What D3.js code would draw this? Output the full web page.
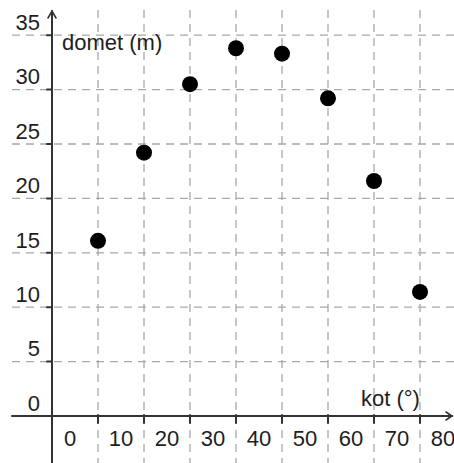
<!DOCTYPE html>
<html>
<head>
<meta charset="utf-8">
<script src="https://cdn.jsdelivr.net/npm/d3@7"></script>
<style>
  html, body { margin: 0; padding: 0; background: #fff; }
  svg { display: block; }
  text { font-family: "Liberation Sans", Arial, sans-serif; fill: #1e1e1e; }
</style>
</head>
<body>
<svg id="chart" width="454" height="463"></svg>
<script>
// Range (domet) of a projectile versus launch angle (kot)
const angles = [10, 20, 30, 40, 50, 60, 70, 80];
const ranges = [16.1, 24.2, 30.5, 33.8, 33.3, 29.2, 21.6, 11.4];
const xTickLabels = [0, 10, 20, 30, 40, 50, 60, 70, 80];
const yTickLabels = [0, 5, 10, 15, 20, 25, 30, 35];
const xGridValues = [10, 20, 30, 40, 50, 60, 70, 80];
const yGridValues = [5, 10, 15, 20, 25, 30, 35];

const W = 454, H = 463;
const svg = d3.select("#chart");

const x = d3.scaleLinear().domain([0, 80]).range([52, 420]);
const y = d3.scaleLinear().domain([0, 35]).range([416, 35.2]);

const gridColor = "#a8a8a8";
const axisColor = "#333";

// dashed grid
svg.append("g").selectAll("line").data(xGridValues).join("line")
  .attr("x1", d => x(d)).attr("x2", d => x(d))
  .attr("y1", 10).attr("y2", H)
  .attr("stroke", gridColor).attr("stroke-width", 1.3)
  .attr("stroke-dasharray", "8,6");

svg.append("g").selectAll("line").data(yGridValues).join("line")
  .attr("x1", 12).attr("x2", W)
  .attr("y1", d => y(d)).attr("y2", d => y(d))
  .attr("stroke", gridColor).attr("stroke-width", 1.3)
  .attr("stroke-dasharray", "8,6");

// axes lines with arrow heads
const axes = svg.append("g").attr("stroke", axisColor).attr("fill", "none")
  .attr("stroke-width", 2).attr("stroke-linecap", "round");
axes.append("line").attr("x1", 12).attr("x2", 452).attr("y1", y(0)).attr("y2", y(0));
axes.append("line").attr("x1", x(0)).attr("x2", x(0)).attr("y1", H).attr("y2", 11);
axes.append("path").attr("d", `M${x(0) - 4},${18} L${x(0)},${11} L${x(0) + 4},${18}`)
  .attr("stroke-width", 1.6);
axes.append("path").attr("d", `M${446},${y(0) - 4} L${452},${y(0)} L${446},${y(0) + 4}`)
  .attr("stroke-width", 1.6);

// tick marks
axes.append("g").selectAll("line").data(xGridValues).join("line")
  .attr("x1", d => x(d)).attr("x2", d => x(d))
  .attr("y1", y(0) - 1).attr("y2", y(0) + 7);
axes.append("g").selectAll("line").data(yGridValues).join("line")
  .attr("x1", x(0) - 5).attr("x2", x(0))
  .attr("y1", d => y(d)).attr("y2", d => y(d));

// x labels sit centred in the cells to the right of each value
const step = x(10) - x(0);
svg.append("g").selectAll("text").data(xTickLabels).join("text")
  .attr("x", d => x(d) + step / 2 - (d === 0 ? 5 : 0))
  .attr("y", 438).attr("dy", "0.35em")
  .attr("text-anchor", "middle").attr("font-size", 22)
  .text(d => d);

// y labels sit just above their grid line
svg.append("g").selectAll("text").data(yTickLabels).join("text")
  .attr("x", 40).attr("y", d => y(d) - 13).attr("dy", "0.35em")
  .attr("text-anchor", "end").attr("font-size", 22)
  .text(d => d);

// axis titles
svg.append("text").attr("x", 62).attr("y", 50)
  .attr("font-size", 22).text("domet (m)");
svg.append("text").attr("x", 361).attr("y", 406)
  .attr("font-size", 22).text("kot (°)");

// data points
svg.append("g").selectAll("circle").data(angles).join("circle")
  .attr("cx", d => x(d))
  .attr("cy", (d, i) => y(ranges[i]))
  .attr("r", 8)
  .attr("fill", "#000");
</script>
</body>
</html>
